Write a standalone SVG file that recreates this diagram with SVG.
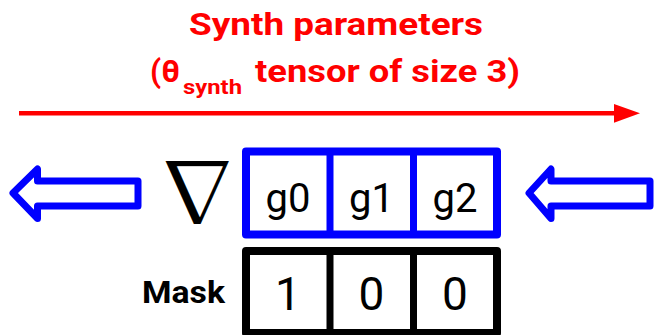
<svg xmlns="http://www.w3.org/2000/svg" width="654" height="335" viewBox="0 0 654 335">
<style>
.title{font-family:Roboto,"Liberation Sans",sans-serif;font-weight:bold;fill:#ff0000;font-size:32px}
.cell{font-family:Roboto,"Liberation Sans",sans-serif;fill:#000;text-anchor:middle}
.barrow{fill:none;stroke:#0000ff;stroke-width:7;stroke-linejoin:round}
</style>
<rect width="654" height="335" fill="#fff"/>
<g id="title">
<text class="title" x="189" y="35" textLength="294" lengthAdjust="spacingAndGlyphs">Synth parameters</text>
<text class="title"><tspan x="150" y="82" textLength="30" lengthAdjust="spacingAndGlyphs">(θ</tspan><tspan x="183" y="93.5" font-size="20" textLength="59" lengthAdjust="spacingAndGlyphs">synth</tspan><tspan x="255" y="82" textLength="265" lengthAdjust="spacingAndGlyphs">tensor of size 3)</tspan></text>
</g>
<g id="connectors">
<line x1="19" y1="113.3" x2="616" y2="113.3" stroke="#ff0000" stroke-width="4.5"/>
<polygon points="614,104 640,113.3 614,122.7" fill="#ff0000"/>
<path class="barrow" d="M13,193 L37.5,169 L37.5,181 L138,181 L138,206 L37.5,206 L37.5,218.5 Z"/>
<path class="barrow" d="M529,193 L551,169 L551,181 L650,181 L650,206 L551,206 L551,218.5 Z"/>
</g>
<g id="nabla">
<text transform="translate(197,224.5) scale(-1.17,1)" x="0" y="0" font-family="'DejaVu Serif',serif" font-size="89" text-anchor="middle" fill="#000" stroke="#fff" stroke-width="2">∇</text>
</g>
<g id="grad">
<rect x="246" y="151.5" width="251" height="83" fill="none" stroke="#0000ff" stroke-width="8" stroke-linejoin="round"/>
<line x1="330" y1="151.5" x2="330" y2="234.5" stroke="#0000ff" stroke-width="7"/>
<line x1="413.5" y1="151.5" x2="413.5" y2="234.5" stroke="#0000ff" stroke-width="7"/>
<text class="cell" x="288" y="212" font-size="40">g0</text>
<text class="cell" x="371.5" y="212" font-size="40">g1</text>
<text class="cell" x="455" y="212" font-size="40">g2</text>
</g>
<g id="mask">
<text x="142" y="303" font-family="Roboto,'Liberation Sans',sans-serif" font-weight="bold" font-size="32" textLength="83" lengthAdjust="spacingAndGlyphs">Mask</text>
<rect x="246" y="251" width="251" height="82" fill="none" stroke="#000" stroke-width="8" stroke-linejoin="round"/>
<line x1="330" y1="251" x2="330" y2="333" stroke="#000" stroke-width="7"/>
<line x1="413.5" y1="251" x2="413.5" y2="333" stroke="#000" stroke-width="7"/>
<text class="cell" x="288" y="310" font-size="46">1</text>
<text class="cell" x="371.5" y="310" font-size="46">0</text>
<text class="cell" x="455" y="310" font-size="46">0</text>
</g>
</svg>
